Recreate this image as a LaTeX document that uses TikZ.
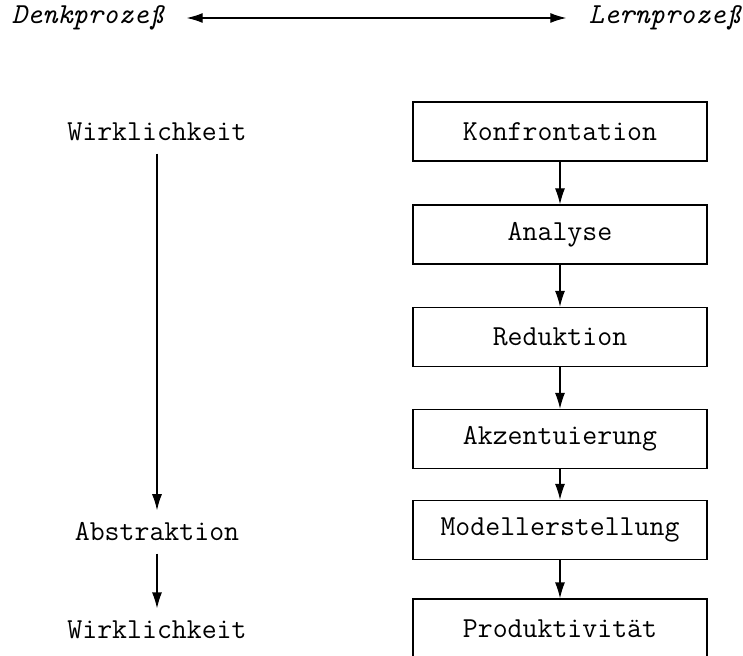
\documentclass[tikz,border=0pt]{standalone}
\usepackage{fontspec}
\usetikzlibrary{arrows.meta}

\begin{document}
\begin{tikzpicture}[
		x=0.5pt, y=-0.5pt,
		line width=0.6pt,
		every node/.style={font=\ttfamily\fontsize{14.5}{17}\selectfont},
		stepbox/.style={rectangle, draw, minimum width=147pt, minimum height=29.5pt, inner sep=0pt},
		word/.style={inner xsep=0pt, inner ysep=6pt},
		process/.style={font=\ttfamily\itshape\fontsize{14.5}{17}\selectfont, inner xsep=11pt},
		>={Latex[length=8pt, width=5pt]}
	]
  \useasboundingbox (0,0) rectangle (743,656);
  \node (denk) [process] at (88,18) {Denkprozeß};
  \node (lern) [process] at (665,18) {Lernprozeß};
  \node (wirk_a) [word] at (157,132) {Wirklichkeit};
  \node (abstr) [word] at (157,532) {Abstraktion};
  \node (wirk_b) [word] at (157,630) {Wirklichkeit};
  \node (konf) [stepbox] at (560,131.5) {Konfrontation};
  \node (anal) [stepbox] at (560,234.5) {Analyse};
  \node (redu) [stepbox] at (560,337) {Reduktion};
  \node (akze) [stepbox] at (560,439) {Akzentuierung};
  \node (mode) [stepbox] at (560,530) {Modellerstellung};
  \node (prod) [stepbox] at (560,628.5) {Produktivität};
  \draw (denk) edge [<->] (lern);
  \draw (wirk_a) edge [->] (abstr);
  \draw (abstr) edge [->] (wirk_b);
  \draw (konf) edge [->] (anal);
  \draw (anal) edge [->] (redu);
  \draw (redu) edge [->] (akze);
  \draw (akze) edge [->] (mode);
  \draw (mode) edge [->] (prod);
\end{tikzpicture}
\end{document}
